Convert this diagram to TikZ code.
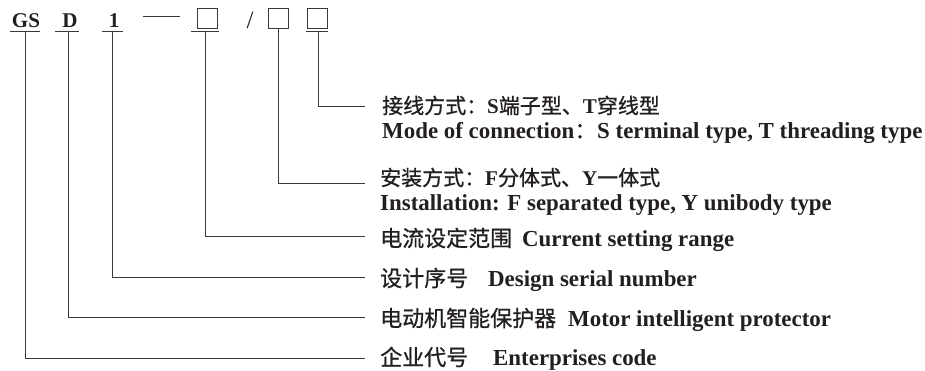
\documentclass[tikz,border=0pt]{standalone}
\usepackage{fontspec}
\setmainfont{Liberation Serif}
\newfontfamily\cjkf[FakeBold=0.8]{Noto Sans CJK SC}
\newcommand{\cjk}{\cjkf\mdseries}
\definecolor{ink}{HTML}{231F20}
\definecolor{wire}{HTML}{3A3838}
\begin{document}
\begin{tikzpicture}[x=1pt,y=-1pt,
  code/.style={inner sep=0pt,anchor=base,font=\fontsize{21}{21}\selectfont\bfseries,text=ink},
  cbox/.style={draw=wire,line width=0.9pt,minimum width=20pt,minimum height=20pt,inner sep=0pt},
  uline/.style={draw=wire,line width=0.9pt},
  conn/.style={draw=wire,line width=0.9pt},
  lbl/.style={inner sep=0pt,anchor=base west,text=ink,font=\fontsize{22.9}{22.9}\selectfont\bfseries},
  lblcn/.style={lbl,font=\fontsize{21}{21}\selectfont\bfseries},
  lblcnb/.style={lbl,font=\fontsize{22}{22}\selectfont\bfseries}]
\useasboundingbox (0,0) rectangle (925,371);

% code parts
\node[code] (gs) at (26,28) {GS};
\node[code] (d) at (70,28) {D};
\node[code] (one) at (114,28) {1};
\draw[uline] (143,16) -- (180,16);
\node[cbox] (b1) at (207,18) {};
\node[code,font=\fontsize{25}{25}\selectfont] (sl) at (250,29) {/};
\node[cbox] (b2) at (278,18) {};
\node[cbox] (b3) at (317.5,18) {};

% underlines
\draw[uline] (10,31) -- (40,31);
\draw[uline] (55,31) -- (79,31);
\draw[uline] (102,31) -- (123,31);
\draw[uline] (191,31) -- (219,31);
\draw[uline] (306,31) -- (328,31);

\coordinate (tgs) at (25,31);
\coordinate (td) at (68,31);
\coordinate (tone) at (112,31);
\coordinate (tb1) at (205,31);
\coordinate (tb3) at (318,31);

% labels
\node[lblcn] (l6) at (382,113.5) {{\cjk 接线方式：}S{\cjk 端子型、}T{\cjk 穿线型}};
\node[lbl] (l6e) at (382,138.5) {Mode of connection{\cjk ：}S terminal type, T threading type};
\node[lblcn] (l5) at (380,185.5) {{\cjk 安装方式：}F{\cjk 分体式、}Y{\cjk 一体式}};
\node[lbl] (l5e) at (380,210.5) {Installation: F separated type, Y unibody type};
\node[lblcnb] (l4) at (380,246.4) {{\cjk 电流设定范围}\hspace{10pt}{\fontsize{22.9}{22.9}\selectfont Current setting range}};
\node[lblcnb] (l3) at (380,286.4) {{\cjk 设计序号}\hspace{20pt}{\fontsize{22.9}{22.9}\selectfont Design serial number}};
\node[lblcnb] (l2) at (380,326.4) {{\cjk 电动机智能保护器}\hspace{12pt}{\fontsize{22.9}{22.9}\selectfont Motor intelligent protector}};
\node[lblcnb] (l1) at (380,365.4) {{\cjk 企业代号}\hspace{25pt}{\fontsize{22.9}{22.9}\selectfont Enterprises code}};

% connectors
\draw[conn] (tb3) |- ([xshift=-17pt]l6.west |- 0,106);
\draw[conn] (b2.south) |- ([xshift=-15pt]l5.west |- 0,183);
\draw[conn] (tb1) |- ([xshift=-15pt]l4.west |- 0,236);
\draw[conn] (tone) |- ([xshift=-15pt]l3.west |- 0,277);
\draw[conn] (td) |- ([xshift=-15pt]l2.west |- 0,317);
\draw[conn] (tgs) |- ([xshift=-15pt]l1.west |- 0,358);
\end{tikzpicture}
\end{document}
